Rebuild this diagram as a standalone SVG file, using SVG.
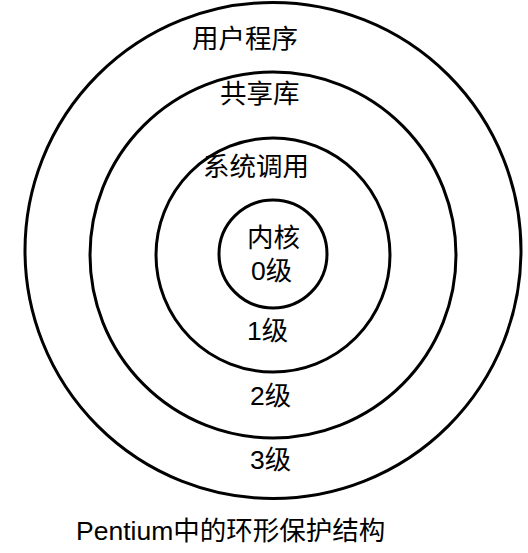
<svg xmlns="http://www.w3.org/2000/svg" width="528" height="553" viewBox="0 0 528 553">
<style>
.ring{fill:none;stroke:#000;stroke-width:3}
.t{font-family:"Liberation Sans","Noto Sans CJK SC",sans-serif;font-size:26.5px;fill:#000}
</style>
<rect width="528" height="553" fill="#fff"/>
<g id="ring3">
<circle class="ring" cx="273" cy="250.5" r="248"/>
<text class="t" x="192" y="48">用户程序</text>
<text class="t" x="250" y="469">3级</text>
</g>
<g id="ring2">
<circle class="ring" cx="273" cy="255" r="183"/>
<text class="t" x="220" y="103">共享库</text>
<text class="t" x="250" y="405">2级</text>
</g>
<g id="ring1">
<circle class="ring" cx="273" cy="255" r="117"/>
<text class="t" x="203" y="176">系统调用</text>
<text class="t" x="247" y="340">1级</text>
</g>
<g id="ring0">
<circle class="ring" cx="273" cy="254" r="54"/>
<text class="t" x="247" y="247">内核</text>
<text class="t" x="251" y="280">0级</text>
</g>
<g id="connectors"></g>
<text class="t" x="76" y="540">Pentium中的环形保护结构</text>
</svg>
